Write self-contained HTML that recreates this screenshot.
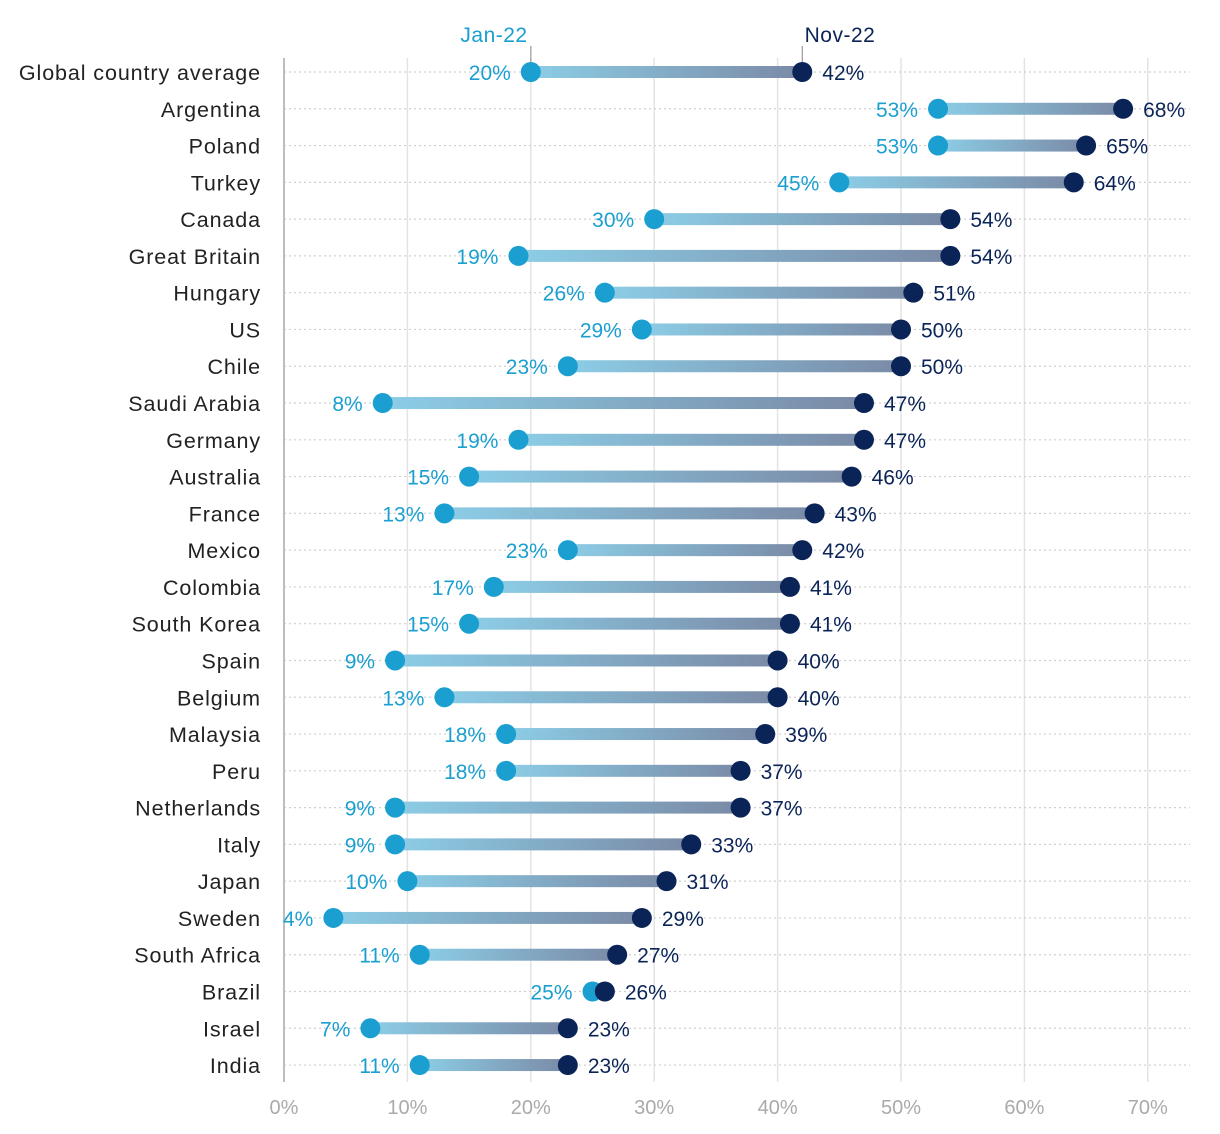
<!DOCTYPE html>
<html><head><meta charset="utf-8"><style>
body{margin:0;background:#fff;}
svg{display:block;font-family:"Liberation Sans",sans-serif;}
</style></head><body>
<svg id="chart" width="1220" height="1134" viewBox="0 0 1220 1134" xmlns="http://www.w3.org/2000/svg">
<defs><linearGradient id="grad" x1="0" y1="0" x2="1" y2="0"><stop offset="0" stop-color="#8ccde6"/><stop offset="1" stop-color="#7a8aa6"/></linearGradient></defs>
</svg>
<script>
const countries=["Global country average","Argentina","Poland","Turkey","Canada","Great Britain","Hungary","US","Chile","Saudi Arabia","Germany","Australia","France","Mexico","Colombia","South Korea","Spain","Belgium","Malaysia","Peru","Netherlands","Italy","Japan","Sweden","South Africa","Brazil","Israel","India"];
const jan22=[20,53,53,45,30,19,26,29,23,8,19,15,13,23,17,15,9,13,18,18,9,9,10,4,11,25,7,11];
const nov22=[42,68,65,64,54,54,51,50,50,47,47,46,43,42,41,41,40,40,39,37,37,33,31,29,27,26,23,23];
const xTicks=[0,10,20,30,40,50,60,70];
const svg=document.getElementById('chart');
const NS='http://www.w3.org/2000/svg';
const x=v=>284+v*12.34;
const y=i=>72+i*36.78;
function mk(t,a,p){const e=document.createElementNS(NS,t);for(const k in a)e.setAttribute(k,a[k]);(p||svg).appendChild(e);return e;}
const LB='#1a9fd0',DB='#0b2458';
xTicks.forEach(t=>{
  if(t>0){const g=mk('line',{x1:x(t),x2:x(t),y1:58,y2:1082,stroke:'#e3e3e3','stroke-width':1.5});
  
  }
  const tl=mk('text',{x:x(t),y:1114,'text-anchor':'middle','font-size':20,fill:'#aaaaaa'});tl.textContent=t+'%';
  
  
});
countries.forEach((c,i)=>{
  const h=mk('line',{x1:284,x2:1190,y1:y(i),y2:y(i),stroke:'#cfcfcf','stroke-width':1.2,'stroke-dasharray':'2 3'});
  
  
});
const ax=mk('line',{x1:284,x2:284,y1:58,y2:1082,stroke:'#bdbdbd','stroke-width':2});


[[jan22[0],'Jan-22',LB,494],[nov22[0],'Nov-22',DB,840]].forEach(([v,l,col,tx])=>{
  const ln=mk('line',{x1:x(v),x2:x(v),y1:46,y2:62,stroke:'#999','stroke-width':1.2});
  
  
  const t=mk('text',{x:tx,y:42,'text-anchor':'middle','font-size':21,fill:col,'letter-spacing':0.5});t.textContent=l;
  
  
});
countries.forEach((c,i)=>{
  const yy=y(i),a=jan22[i],b=nov22[i];
  const g=mk('g',{});
  
  
  const lab=mk('text',{x:261,y:yy+8,'text-anchor':'end','font-size':21.5,'letter-spacing':0.9,fill:'#222'},g);lab.textContent=c;
  
  
  const r=mk('rect',{x:x(Math.min(a,b)),y:yy-6,width:Math.abs(x(b)-x(a)),height:12,fill:'url(#grad)'},g);
  
  
  const d1=mk('circle',{cx:x(a),cy:yy,r:10,fill:LB},g);
  
  
  const d2=mk('circle',{cx:x(b),cy:yy,r:10,fill:DB},g);
  
  
  const t1=mk('text',{x:x(a)-20,y:yy+8,'text-anchor':'end','font-size':21,fill:LB},g);t1.textContent=a+'%';
  
  
  const t2=mk('text',{x:x(b)+20,y:yy+8,'font-size':21,fill:DB},g);t2.textContent=b+'%';
  
  
});
</script>
</body></html>
